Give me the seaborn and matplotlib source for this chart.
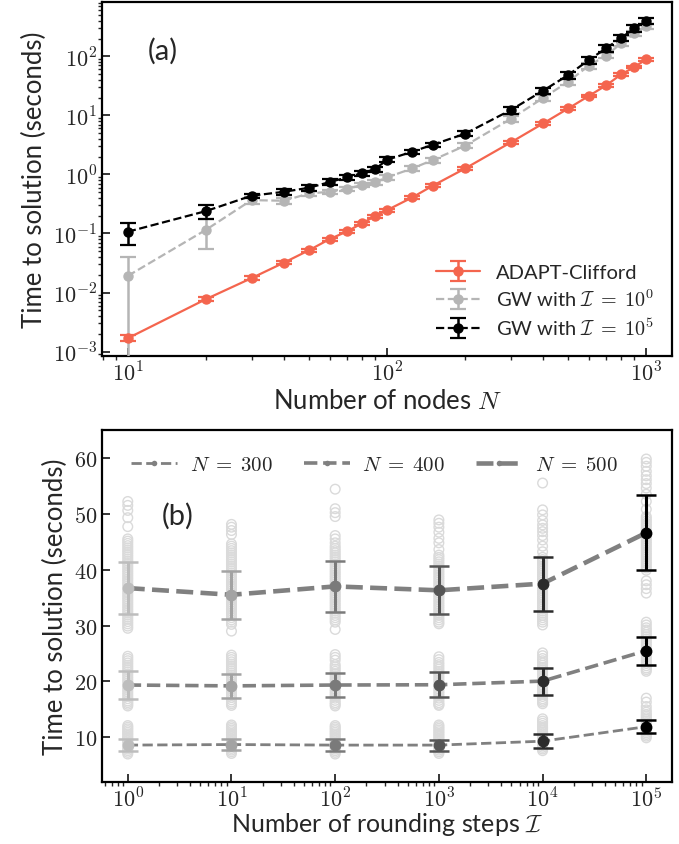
import numpy as np
import pandas as pd
import matplotlib
matplotlib.use("Agg")
import matplotlib.pyplot as plt
import seaborn as sns
from matplotlib.ticker import LogLocator, FuncFormatter, FixedLocator

# ---------------- data: panel (a) ----------------
nodes = [10, 20, 30, 40, 50, 60, 70, 80, 90, 100, 125, 150, 200, 300, 400, 500, 600, 700, 800, 900, 1000]
adapt_mean = [0.00168, 0.0077, 0.0175, 0.032, 0.052, 0.080, 0.108, 0.148, 0.197, 0.248, 0.407, 0.643,
              1.26, 3.48, 7.3, 13.1, 21.3, 32.2, 49.5, 65.9, 89.0]
adapt_err = [0.0002, 0.0006, 0.0012, 0.002, 0.003, 0.005, 0.006, 0.008, 0.011, 0.014, 0.022, 0.035,
             0.07, 0.2, 0.4, 0.7, 1.2, 1.8, 2.7, 3.6, 4.8]
gw1_mean = [0.0191, 0.115, 0.367, 0.358, 0.476, 0.508, 0.564, 0.668, 0.73, 0.891, 1.26, 1.75,
            3.06, 8.7, 19.7, 37.2, 69.5, 103.0, 166.0, 245.0, 322.0]
gw1_err = [0.021, 0.06, 0.053, 0.04, 0.04, 0.045, 0.05, 0.06, 0.07, 0.08, 0.12, 0.17,
           0.3, 1.0, 2.2, 4.0, 7.5, 11.0, 17.0, 25.0, 32.0]
gw5_mean = [0.107, 0.239, 0.435, 0.508, 0.594, 0.741, 0.891, 1.05, 1.23, 1.77, 2.42, 3.18,
            4.89, 12.3, 26.2, 48.3, 86.7, 137.0, 205.0, 298.0, 397.0]
gw5_err = [0.043, 0.064, 0.04, 0.06, 0.07, 0.08, 0.1, 0.1, 0.12, 0.17, 0.22, 0.28,
           0.45, 1.6, 3.0, 6.5, 12.0, 18.0, 25.0, 35.0, 45.0]

# ---------------- data: panel (b) ----------------
rounding_steps = [1, 10, 100, 1000, 10000, 100000]
n_labels = [r"$N\;=\;300$", r"$N\;=\;400$", r"$N\;=\;500$"]
n300_mean = [8.6, 8.7, 8.6, 8.6, 9.3, 11.9]
n300_err = [1.05, 1.05, 1.05, 1.0, 1.25, 1.2]
n400_mean = [19.35, 19.2, 19.35, 19.4, 20.05, 25.5]
n400_err = [2.45, 2.2, 2.15, 2.2, 2.4, 2.5]
n500_mean = [36.7, 35.5, 37.0, 36.3, 37.5, 46.6]
n500_err = [4.6, 4.25, 4.6, 4.3, 4.85, 6.75]

samples_300 = [
    [12.1, 11.8, 11.5, 11.2, 10.9, 10.6, 10.3, 10.0, 9.7, 9.4, 9.1, 8.8, 8.5, 8.2, 7.9, 7.6, 7.3, 7.0],
    [12.2, 11.9, 11.6, 11.3, 11.0, 10.7, 10.4, 10.1, 9.8, 9.5, 9.2, 8.9, 8.6, 8.3, 8.0, 7.7, 7.4, 7.1],
    [12.1, 11.8, 11.5, 11.2, 10.9, 10.6, 10.3, 10.0, 9.7, 9.4, 9.1, 8.8, 8.5, 8.2, 7.9, 7.6, 7.3, 7.0],
    [12.2, 11.9, 11.6, 11.3, 11.0, 10.7, 10.4, 10.1, 9.8, 9.5, 9.2, 8.9, 8.6, 8.3, 8.0, 7.7, 7.4, 7.1],
    [13.3, 12.9, 12.5, 12.1, 11.8, 11.5, 11.2, 10.9, 10.6, 10.3, 10.0, 9.7, 9.4, 9.1, 8.8, 8.5, 8.2,
     7.9, 7.6],
    [17.0, 16.3, 15.5, 14.9, 14.5, 14.1, 13.8, 13.5, 13.2, 12.9, 12.6, 12.3, 12.0, 11.7, 11.4, 11.1,
     10.8, 10.5, 10.2, 9.9],
]
samples_400 = [
    [24.5, 24.1, 23.7, 23.3, 22.9, 22.5, 22.1, 21.7, 21.3, 20.9, 20.5, 20.1, 19.7, 19.3, 18.9, 18.5,
     18.1, 17.7, 17.3, 16.9, 16.5, 16.2, 15.9, 15.6],
    [24.7, 24.3, 23.9, 23.5, 23.1, 22.7, 22.3, 21.9, 21.5, 21.1, 20.7, 20.3, 19.9, 19.5, 19.1, 18.7,
     18.3, 17.9, 17.5, 17.1, 16.7, 16.3, 16.0, 15.7],
    [24.8, 24.3, 23.8, 23.0, 22.6, 22.2, 21.8, 21.4, 21.0, 20.6, 20.2, 19.8, 19.4, 19.0, 18.6, 18.2,
     17.8, 17.4, 17.0, 16.6, 16.2, 15.9, 15.6],
    [24.4, 23.9, 23.4, 23.0, 22.6, 22.2, 21.8, 21.4, 21.0, 20.6, 20.2, 19.8, 19.4, 19.0, 18.6, 18.2,
     17.8, 17.4, 17.0, 16.6, 16.2, 15.9, 15.7],
    [25.1, 24.6, 24.1, 23.7, 23.3, 22.9, 22.5, 22.1, 21.7, 21.3, 20.9, 20.5, 20.1, 19.7, 19.3, 18.9,
     18.5, 18.1, 17.7, 17.3, 16.9, 16.6, 16.3, 16.0],
    [30.6, 30.1, 29.6, 29.2, 28.8, 28.4, 28.0, 27.6, 27.2, 26.8, 26.4, 26.0, 25.6, 25.2, 24.8, 24.4,
     24.0, 23.6, 23.2, 22.8, 22.4, 22.1, 21.8],
]
samples_500 = [
    [52.2, 51.5, 50.6, 49.3, 47.7, 45.5, 45.1, 44.7, 44.3, 43.9, 43.5, 43.1, 42.7, 42.3, 41.9, 41.5,
     41.1, 40.7, 40.3, 39.9, 39.5, 39.1, 38.7, 38.3, 37.9, 37.5, 37.1, 36.7, 36.3, 35.9, 35.5, 35.1,
     34.7, 34.3, 33.9, 33.5, 33.1, 32.7, 32.3, 31.9, 31.5, 31.1, 30.7, 30.3, 29.9, 29.5],
    [48.1, 47.6, 47.0, 46.3, 44.6, 44.2, 43.8, 43.4, 43.0, 42.6, 42.2, 41.8, 41.4, 41.0, 40.6, 40.2,
     39.8, 39.4, 39.0, 38.6, 38.2, 37.8, 37.4, 37.0, 36.6, 36.2, 35.8, 35.4, 35.0, 34.6, 34.2, 33.8,
     33.4, 33.0, 32.6, 32.2, 31.8, 31.4, 31.0, 30.6, 30.2, 29.0],
    [54.4, 50.9, 50.2, 49.5, 46.1, 45.5, 44.8, 44.2, 43.8, 43.4, 43.0, 42.6, 42.2, 41.8, 41.4, 41.0,
     40.6, 40.2, 39.8, 39.4, 39.0, 38.6, 38.2, 37.8, 37.4, 37.0, 36.6, 36.2, 35.8, 35.4, 35.0, 34.6,
     34.2, 33.8, 33.4, 33.0, 32.6, 32.2, 31.8, 31.4, 31.0, 30.6, 29.3],
    [48.9, 48.3, 47.6, 46.7, 45.6, 44.8, 43.6, 42.6, 42.2, 41.8, 41.4, 41.0, 40.6, 40.2, 39.8, 39.4,
     39.0, 38.6, 38.2, 37.8, 37.4, 37.0, 36.6, 36.2, 35.8, 35.4, 35.0, 34.6, 34.2, 33.8, 33.4, 33.0,
     32.6, 32.2, 31.8, 31.4, 31.0, 30.6, 30.3],
    [55.5, 50.7, 49.8, 48.8, 48.0, 47.4, 46.8, 46.1, 45.3, 44.2, 43.2, 42.2, 41.8, 41.4, 41.0, 40.6,
     40.2, 39.8, 39.4, 39.0, 38.6, 38.2, 37.8, 37.4, 37.0, 36.6, 36.2, 35.8, 35.4, 35.0, 34.6, 34.2,
     33.8, 33.4, 33.0, 32.6, 32.2, 31.8, 31.4, 31.0, 30.6, 30.1],
    [59.8, 59.2, 58.5, 57.6, 56.8, 56.1, 55.4, 54.6, 53.5, 52.2, 50.8, 49.5, 49.1, 48.7, 48.3, 47.9,
     47.5, 47.1, 46.7, 46.3, 45.9, 45.5, 45.1, 44.7, 44.3, 43.9, 43.5, 43.1, 42.7, 42.3, 41.9, 41.5,
     41.1, 40.7, 40.3, 39.9, 38.0, 37.3, 36.6, 35.8],
]

step_colors = ["#bdbdbd", "#a3a3a3", "#7a7a7a", "#555555", "#2b2b2b", "#000000"]

# ---------------- style ----------------
sns.set_style("white")
plt.rcParams["font.family"] = ["Lato", "DejaVu Sans"]
plt.rcParams["mathtext.fontset"] = "cm"
plt.rcParams["axes.linewidth"] = 1.6

fig = plt.figure(figsize=(6.79, 8.45), dpi=100)
ax1 = fig.add_axes([0.150, 0.5775, 0.840, 0.4185])
ax2 = fig.add_axes([0.150, 0.0734, 0.840, 0.4166])

def log_fmt(v, pos):
    if v <= 0:
        return ""
    e = int(round(np.log10(v)))
    return r"$10^{%d}$" % e

# ---------------- panel (a) ----------------
ax1.set_xscale("log")
ax1.set_yscale("log")
red = "#f4654e"
gray = "#b5b5b5"
eb_kw = dict(capsize=6, elinewidth=1.8, capthick=1.6, markersize=6.5)
ax1.errorbar(nodes, adapt_mean, yerr=adapt_err, fmt="-o", color=red, lw=1.6,
             label="ADAPT-Clifford", zorder=4, **eb_kw)
ax1.errorbar(nodes, gw1_mean, yerr=gw1_err, fmt="--o", color=gray, lw=1.6,
             label=r"GW with $\mathcal{I}\;=\;10^0$", zorder=3, **eb_kw)
ax1.errorbar(nodes, gw5_mean, yerr=gw5_err, fmt="--o", color="black", lw=1.6,
             label=r"GW with $\mathcal{I}\;=\;10^5$", zorder=5, **eb_kw)
ax1.set_xlim(7.94, 1259)
ax1.set_ylim(8.4e-4, 820)
ax1.xaxis.set_major_locator(LogLocator(base=10, numticks=10))
ax1.yaxis.set_major_locator(LogLocator(base=10, numticks=12))
ax1.xaxis.set_major_formatter(FuncFormatter(log_fmt))
ax1.yaxis.set_major_formatter(FuncFormatter(log_fmt))
ax1.set_xlabel(r"Number of nodes $N$", fontsize=18.5, labelpad=3)
ax1.set_ylabel("Time to solution (seconds)", fontsize=18.5)
ax1.text(0.107, 0.864, "(a)", transform=ax1.transAxes, fontsize=21, ha="center", va="center")
ax1.legend(loc="lower right", bbox_to_anchor=(1.0, 0.0), frameon=False, fontsize=14.5,
           handlelength=2.2, labelspacing=0.35, handletextpad=0.8)

# ---------------- panel (b) ----------------
ax2.set_xscale("log")
rows = []
for lab, samp in zip(n_labels, [samples_300, samples_400, samples_500]):
    for I, vals in zip(rounding_steps, samp):
        for v in vals:
            rows.append({"I": I, "t": v, "N": lab})
df = pd.DataFrame(rows)
sns.scatterplot(data=df, x="I", y="t", ax=ax2, marker="o", s=48, facecolor="none",
                edgecolor="#dadada", linewidth=1.0, zorder=1, legend=False)

means = [n300_mean, n400_mean, n500_mean]
errs = [n300_err, n400_err, n500_err]
lws = [2.0, 2.6, 3.3]
for lab, m, e, lw in zip(n_labels, means, errs, lws):
    sns.lineplot(x=rounding_steps, y=m, ax=ax2, color="#808080", lw=lw, linestyle="--",
                 marker="o", markersize=4, markeredgewidth=0, label=lab, zorder=2)
    for I, mv, ev, c in zip(rounding_steps, m, e, step_colors):
        ax2.errorbar([I], [mv], yerr=[ev], fmt="o", color=c, markersize=7.5, capsize=7,
                     elinewidth=2.2, capthick=1.8, zorder=3)

ax2.set_xlim(10 ** -0.25, 10 ** 5.25)
ax2.set_ylim(2, 65)
ax2.yaxis.set_major_locator(FixedLocator([10, 20, 30, 40, 50, 60]))
ax2.yaxis.set_major_formatter(FuncFormatter(lambda v, p: r"$%d$" % v))
ax2.xaxis.set_major_locator(LogLocator(base=10, numticks=10))
ax2.xaxis.set_major_formatter(FuncFormatter(log_fmt))
ax2.set_xlabel(r"Number of rounding steps $\mathcal{I}$", fontsize=18, labelpad=0)
ax2.set_ylabel("Time to solution (seconds)", fontsize=18.5)
ax2.text(0.133, 0.758, "(b)", transform=ax2.transAxes, fontsize=21, ha="center", va="center")
ax2.legend(loc="upper center", bbox_to_anchor=(0.478, 0.985), ncol=3, frameon=False,
           fontsize=15, handlelength=2.2, columnspacing=1.5, handletextpad=0.6)

for ax in (ax1, ax2):
    ax.tick_params(which="major", direction="in", length=6, width=1.3, labelsize=16,
                   bottom=True, left=True)
    ax.tick_params(which="minor", direction="out", length=3, width=1.0, bottom=True, left=True)
    ax.tick_params(axis="x", which="major", pad=3)
    for s in ax.spines.values():
        s.set_linewidth(1.6)
        s.set_color("black")

fig.savefig("out.png", dpi=100)
